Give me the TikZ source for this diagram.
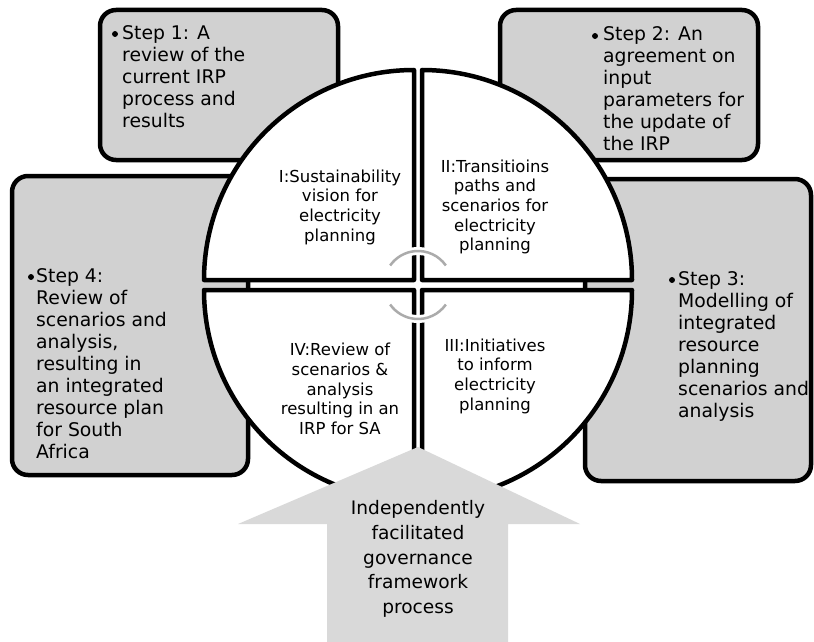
\documentclass[tikz,border=0pt]{standalone}
\usepackage{fontspec}
\setmainfont{DejaVu Sans}
\begin{document}
\begin{tikzpicture}[x=1pt,y=-1pt,
    stepbox/.style={draw,line width=4.5pt,fill=black!18,rounded corners=16pt},
    quad/.style={draw,line width=4.5pt,fill=white,line join=round},
    steptext/.style={anchor=north west,align=left,inner sep=0pt,font=\fontsize{18.8}{22}\selectfont},
    dot/.style={circle,fill,inner sep=2.1pt},
    quadtext/.style={align=center,inner sep=0pt,font=\fontsize{16.5}{19.7}\selectfont},
    turn/.style={line width=2.5pt,draw=black!33},
    halo/.style={line width=8pt,draw=white}]
\useasboundingbox (0,0) rectangle (814,642);

% the four step boxes (partly hidden by the circle)
\draw[stepbox] (100,10) rectangle (338,160);
\draw[stepbox] (500,10) rectangle (758,160);
\draw[stepbox] (585,179) rectangle (811,481);
\draw[stepbox] (12,176) rectangle (248,475);

% the four quarters of the circle
\draw[quad] (414,280) -- ++(-210,0) arc[start angle=180, end angle=270, radius=210] -- cycle;
\draw[quad] (422,280) -- ++(0,-210) arc[start angle=270, end angle=360, radius=210] -- cycle;
\draw[quad] (422,290) -- ++(210,0) arc[start angle=0, end angle=90, radius=210] -- cycle;
\draw[quad] (414,290) -- ++(0,210) arc[start angle=90, end angle=180, radius=210] -- cycle;

% turning arcs in the middle
\draw[halo] (418,285) ++(-35:34) arc[start angle=-35, end angle=-145, radius=34];
\draw[halo] (418,285) ++(35:34) arc[start angle=35, end angle=145, radius=34];
\draw[turn] (418,285) ++(-35:34) arc[start angle=-35, end angle=-145, radius=34];
\draw[turn] (418,285) ++(35:34) arc[start angle=35, end angle=145, radius=34];

\node[quadtext] (q1) at (340,207) {I:Sustainability\\vision for\\electricity\\planning};
\node[quadtext] (q2) at (495,207) {II:Transitioins\\paths and\\scenarios for\\electricity\\planning};
\node[quadtext] (q3) at (495,376) {III:Initiatives\\to inform\\electricity\\planning};
\node[quadtext] (q4) at (340,389) {IV:Review of\\scenarios \&\\analysis\\resulting in an\\IRP for SA};

% governance arrow
\fill[black!15] (418,447) -- (580,524) -- (508,524) -- (508,642) -- (327,642) -- (327,524) -- (238,524) -- cycle;
\node[align=center,inner sep=0pt,font=\fontsize{18.6}{24.7}\selectfont] (gov) at (418,559)
    {Independently\\facilitated\\governance\\framework\\process};

% step texts
\node[dot] (b1) at (115,34) {};
\node[steptext] (s1) at (122,25) {Step 1: A\\review of the\\current IRP\\process and\\results};
\node[dot] (b2) at (595,36) {};
\node[steptext] (s2) at (603,26) {Step 2: An\\agreement on\\input\\parameters for\\the update of\\the IRP};
\node[dot] (b3) at (672,280) {};
\node[steptext] (s3) at (678,271) {Step 3:\\Modelling of\\integrated\\resource\\planning\\scenarios and\\analysis};
\node[dot] (b4) at (31,277) {};
\node[steptext] (s4) at (36,268) {Step 4:\\Review of\\scenarios and\\analysis,\\resulting in\\an integrated\\resource plan\\for South\\Africa};
\end{tikzpicture}
\end{document}
